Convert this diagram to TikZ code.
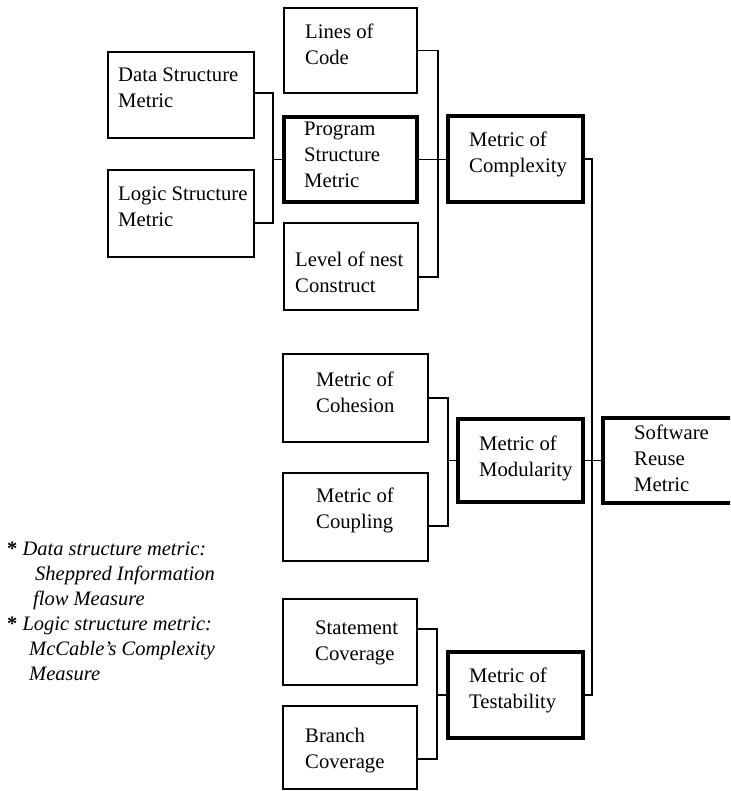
\documentclass[tikz,border=0pt]{standalone}
\usepackage{fontspec}
\setmainfont{Liberation Serif}
\newcommand\boxfont{\fontsize{20.7}{26}\selectfont}
\newcommand\notefont{\fontsize{20.5}{25}\selectfont\itshape}
\begin{document}
\begin{tikzpicture}[x=1pt,y=-1pt,
  thinbox/.style={draw, line width=1.9pt, rectangle, inner sep=0pt},
  thickbox/.style={draw, line width=3.6pt, rectangle, inner sep=0pt},
  conn/.style={draw, line width=1.8pt},
  txt/.style={font=\boxfont, align=left, inner sep=0pt, anchor=base west},
  note/.style={font=\notefont, align=left, inner sep=0pt, anchor=base west}]
\useasboundingbox (0,0) rectangle (730,791);
\clip (0,0) rectangle (730,791);
\fill[white] (0,0) rectangle (730,791);

% boxes
\node[thinbox, minimum width=146pt, minimum height=86pt] (DSM) at (181,95) {};
\node[thinbox, minimum width=146pt, minimum height=87pt] (LSM) at (181,213.5) {};
\node[thinbox, minimum width=133pt, minimum height=85pt] (LoC) at (350.5,50.5) {};
\node[thickbox, minimum width=133pt, minimum height=85pt] (PSM) at (350.5,159.5) {};
\node[thinbox, minimum width=134pt, minimum height=87pt] (LNC) at (351,266.5) {};
\node[thickbox, minimum width=135pt, minimum height=86pt] (MoC) at (515.5,159) {};
\node[thinbox, minimum width=145pt, minimum height=88pt] (Coh) at (355.5,398) {};
\node[thinbox, minimum width=145pt, minimum height=88pt] (Coup) at (355.5,517) {};
\node[thickbox, minimum width=125pt, minimum height=83pt] (Mod) at (520.5,460.5) {};
\node[thickbox, minimum width=142pt, minimum height=85pt] (SRM) at (674,460.5) {};
\node[thinbox, minimum width=134pt, minimum height=86pt] (SC) at (350,642) {};
\node[thinbox, minimum width=134pt, minimum height=83pt] (BC) at (350,747.5) {};
\node[thickbox, minimum width=135pt, minimum height=86pt] (MoT) at (515.5,695) {};

% box texts (anchored at the baseline of their last line)
\node[txt] (tDSM) at (118,108) {Data Structure\\Metric};
\node[txt] (tLSM) at (118,227) {Logic Structure\\Metric};
\node[txt] (tLoC) at (305,65) {Lines of\\Code};
\node[txt] (tPSM) at (304,188) {Program\\Structure\\Metric};
\node[txt] (tLNC) at (295,292) {Level of nest\\Construct};
\node[txt] (tMoC) at (469,173) {Metric of\\Complexity};
\node[txt] (tCoh) at (316,412) {Metric of\\Cohesion};
\node[txt] (tCoup) at (316,528) {Metric of\\Coupling};
\node[txt] (tMod) at (479,476) {Metric of\\Modularity};
\node[txt] (tSRM) at (634,491) {Software\\Reuse\\Metric};
\node[txt] (tSC) at (315,660) {Statement\\Coverage};
\node[txt] (tBC) at (305,768) {Branch\\Coverage};
\node[txt] (tMoT) at (469,708) {Metric of\\Testability};

% junction columns
\coordinate (j1) at (273,0);
\coordinate (j2) at (438,0);
\coordinate (j3) at (448,0);
\coordinate (j4) at (592,0);
\coordinate (j5) at (437,0);

% connectors
\draw[conn] ([yshift=2pt]DSM.east) -| (j1 |- PSM.west) |- ([yshift=-9.5pt]LSM.east);
\draw[conn] (PSM.west) -- (PSM.west -| j1);
\draw[conn] (LoC.east) -| (j2 |- PSM.east) |- ([yshift=-10.5pt]LNC.east);
\draw[conn] (PSM.east) -- (PSM.east -| MoC.west);
\draw[conn] (Coh.east) -| (j3 |- Mod.west) |- ([yshift=-9pt]Coup.east);
\draw[conn] (Mod.west) -- (Mod.west -| j3);
\draw[conn] ([yshift=13pt]SC.east) -| (j5 |- MoT.west) |- ([yshift=-11.5pt]BC.east);
\draw[conn] (MoT.west) -- (MoT.west -| j5);
\draw[conn] (MoC.east) -| (j4 |- Mod.east) |- (MoT.east);
\draw[conn] (Mod.east) -- (SRM.west);

% footnote
\node[note] (fn) at (7,680) {{\upshape\bfseries *} Data structure metric:\\
\hspace*{28pt}Sheppred Information\\
\hspace*{26pt}flow Measure\\
{\upshape\bfseries *} Logic structure metric:\\
\hspace*{22pt}McCable's Complexity\\
\hspace*{22pt}Measure};
\end{tikzpicture}
\end{document}
